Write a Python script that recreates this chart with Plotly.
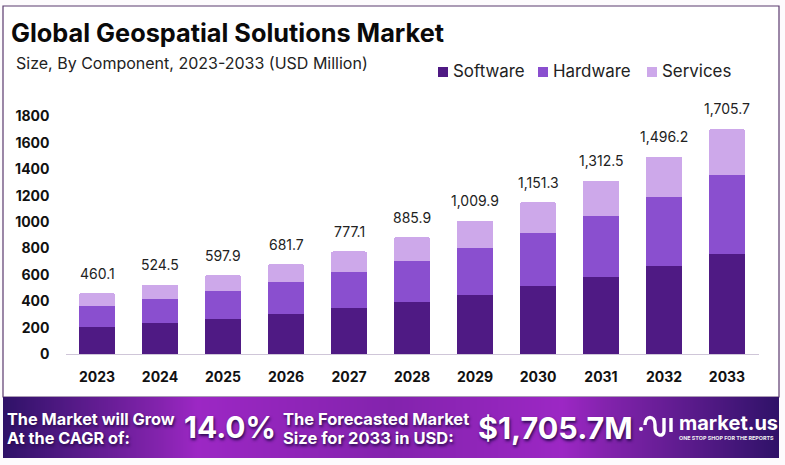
import plotly.graph_objects as go

years = ["2023", "2024", "2025", "2026", "2027", "2028", "2029", "2030", "2031", "2032", "2033"]
software = [205, 233, 266, 303, 346, 394, 449, 512, 584, 666, 759]
hardware = [160, 185, 209, 239, 272, 310, 354, 403, 460, 524, 597]
services = [95.1, 106.5, 122.9, 139.7, 159.1, 181.9, 206.9, 236.3, 268.5, 306.2, 349.7]
totals = ["460.1", "524.5", "597.9", "681.7", "777.1", "885.9", "1,009.9", "1,151.3", "1,312.5", "1,496.2", "1,705.7"]
total_values = [460.1, 524.5, 597.9, 681.7, 777.1, 885.9, 1009.9, 1151.3, 1312.5, 1496.2, 1705.7]
y_ticks = [0, 200, 400, 600, 800, 1000, 1200, 1400, 1600, 1800]

FONT = "Inter"
W, H = 785, 465

def px(x):
    return x / W

def py(y):
    return 1 - y / H

fig = go.Figure()

# stacked bars
for name, vals, col in [("Software", software, "#4f1a84"),
                        ("Hardware", hardware, "#8a4fcf"),
                        ("Services", services, "#cda8ea")]:
    fig.add_trace(go.Bar(x=years, y=vals, name=name, marker_color=col, marker_line_width=0))

# banner gradient, on its own axes
fig.add_trace(go.Heatmap(z=[[0, 1, 0.8, 1, 0]], x=[0, 0.25, 0.5, 0.72, 1], y=[0], xaxis="x2", yaxis="y2",
                         showscale=False, hoverinfo="skip", zsmooth="best",
                         colorscale=[[0, "#2f1268"], [0.8, "#8323ad"], [1, "#9c27c4"]]))

fig.update_layout(
    width=W, height=H, margin=dict(l=0, r=0, t=0, b=0, autoexpand=False),
    paper_bgcolor="#fdfbfd", plot_bgcolor="white", barmode="stack", bargap=0.43, barcornerradius=2,
    showlegend=False,
    xaxis=dict(domain=[px(65.5), px(758.5)], anchor="y", range=[-0.5, 10.5], type="category", automargin=False,
               showgrid=False, showline=True, linecolor="#cfc6d8", linewidth=1, ticks="",
               tickfont=dict(family=FONT, size=14, color="#111111", weight=700), ticklabelstandoff=10),
    yaxis=dict(domain=[py(354), py(116.5)], anchor="x", range=[0, 1800], tickvals=y_ticks, automargin=False,
               showgrid=False, zeroline=False, showline=False, ticks="",
               tickfont=dict(family=FONT, size=14, color="#111111", weight=700), ticklabelstandoff=15),
    xaxis2=dict(domain=[px(3), px(779)], anchor="y2", range=[0, 1], visible=False),
    yaxis2=dict(domain=[py(458), py(397)], anchor="x2", range=[-0.5, 0.5], visible=False),
)

# totals above the bars (category axis takes the serial number here)
for i, (val, txt) in enumerate(zip(total_values, totals)):
    fig.add_annotation(xref="x", yref="y", x=i, y=val, yshift=20, text=txt, showarrow=False, yanchor="middle",
                       font=dict(family=FONT, size=14, color="#222222"))

# white panel with frame
fig.add_shape(type="rect", xref="paper", yref="paper", x0=px(3), x1=px(779), y0=py(397), y1=py(6),
              line=dict(color="#5b3a6e", width=1.2), fillcolor="white", layer="below")

def label(x, y, text, size, color="#111111", weight=400, anchor="left", shadow=None):
    font = dict(family=FONT, size=size, color=color, weight=weight)
    if shadow:
        font["shadow"] = shadow
    fig.add_annotation(xref="paper", yref="paper", x=px(x), y=py(y), text=text, showarrow=False,
                       xanchor=anchor, yanchor="middle", borderpad=0, borderwidth=0, font=font)

label(11, 32, "Global Geospatial Solutions Market", 25.3, color="#0a0a0a", weight=700)
label(16, 63, "Size, By Component, 2023-2033 (USD Million)", 16, color="#222222")

# legend
for lx, name, col in [(438, "Software", "#4f1a84"), (538, "Hardware", "#8a4fcf"), (647, "Services", "#cda8ea")]:
    fig.add_shape(type="rect", xref="paper", yref="paper", x0=px(lx), x1=px(lx + 10), y0=py(77), y1=py(67),
                  fillcolor=col, line_width=0)
    label(lx + 15, 71, name, 16.9, color="#222222")

# banner text
shadow = "1px 2px 3px #2a0a50"
label(7, 419, "The Market will Grow", 16.3, color="white", weight=700, shadow=shadow)
label(7, 438, "At the CAGR of:", 16.3, color="white", weight=700, shadow=shadow)
label(184, 427, "14.0%", 30, color="white", weight=700, shadow=shadow)
label(283, 419, "The Forecasted Market", 16.5, color="white", weight=700, shadow=shadow)
label(283, 438, "Size for 2033 in USD:", 16.5, color="white", weight=700, shadow=shadow)
label(478, 427, "$1,705.7M", 30.5, color="white", weight=700, shadow=shadow)
label(679, 422.5, "market.us", 20, color="white", weight=700)
label(679, 437.5, "ONE STOP SHOP FOR THE REPORTS", 5.4, color="#eeeeee", weight=700)

# logo mark
def logo_path(points):
    cmds = []
    for cmd, *xy in points:
        coords = [f"{px(xy[i])},{py(xy[i + 1])}" for i in range(0, len(xy), 2)]
        cmds.append(cmd + " " + " ".join(coords))
    return " ".join(cmds)

for pts in [[("M", 645, 425), ("C", 645, 415, 655, 415, 655, 425), ("L", 655, 427), ("C", 655, 437, 664, 437, 664, 431)],
            [("M", 664, 418), ("L", 664, 431)],
            [("M", 671, 418), ("L", 671, 432)]]:
    fig.add_shape(type="path", xref="paper", yref="paper", path=logo_path(pts),
                  line=dict(color="white", width=3.4))
fig.add_shape(type="circle", xref="paper", yref="paper", x0=px(639), x1=px(643), y0=py(431), y1=py(427),
              fillcolor="white", line_width=0)

# the page's default body margin would push the figure off the window
fig.write_html("out.html", config=dict(displayModeBar=False),
               post_script="document.body.style.margin='0';document.documentElement.style.overflow='hidden';window.dispatchEvent(new Event('resize'));")
